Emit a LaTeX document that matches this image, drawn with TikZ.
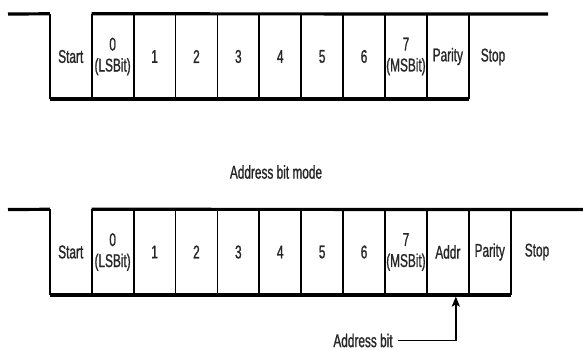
\documentclass[tikz,border=0pt]{standalone}
\usepackage{fontspec}
\setmainfont{Liberation Sans}[FakeStretch=0.64, FakeBold=1]
\usetikzlibrary{positioning,arrows.meta}
\begin{document}
\begin{tikzpicture}[
    x=1pt, y=-1pt,
    >={Stealth[length=10pt,width=8pt,inset=2pt]},
    cell/.style={
        minimum width=41.5pt,
        minimum height=85pt,
        inner sep=0pt,
        align=center,
        text=black!85,
        font=\fontsize{18.5}{21}\selectfont
    },
    lbl/.style={text=black!85, font=\fontsize{18.5}{20}\selectfont},
    bus/.style={line width=3.2pt},
    low/.style={line width=3.8pt},
    tick/.style={line width=1.8pt},
    arr/.style={->, line width=1.8pt, shorten >=1.8pt}
]
    \useasboundingbox (0,0) rectangle (583,350);

    % normal frame
    \node[cell] (start) at (70.75,56.5) {Start};
    \node[cell, right=0pt of start] (bit0) {0\\(LSBit)};
    \node[cell, right=0pt of bit0] (bit1) {1};
    \node[cell, right=0pt of bit1] (bit2) {2};
    \node[cell, right=0pt of bit2] (bit3) {3};
    \node[cell, right=0pt of bit3] (bit4) {4};
    \node[cell, right=0pt of bit4] (bit5) {5};
    \node[cell, right=0pt of bit5] (bit6) {6};
    \node[cell, right=0pt of bit6] (bit7) {7\\(MSBit)};
    \node[cell, right=0pt of bit7] (par) {Parity};
    \node[lbl] (stop) at (493,57) {Stop};
    \coordinate (idle) at (8,14);
    \coordinate (high) at (548,14);

    \foreach \c in {start,bit0,bit1,bit2,bit3,bit4,bit5,bit6,bit7,par}
        \draw[tick] (\c.north west) -- (\c.south west);
    \draw[tick] (par.north east) -- (par.south east);
    \draw[bus] (idle) -- (start.north west);
    \draw[bus] (bit0.north west) -- (high);
    \draw[low] (start.south west) -- (par.south east);

    \node[lbl] (mode) at (276,172) {Address bit mode};

    % address bit frame
    \node[cell] (astart) at (70.75,252) {Start};
    \node[cell, right=0pt of astart] (abit0) {0\\(LSBit)};
    \node[cell, right=0pt of abit0] (abit1) {1};
    \node[cell, right=0pt of abit1] (abit2) {2};
    \node[cell, right=0pt of abit2] (abit3) {3};
    \node[cell, right=0pt of abit3] (abit4) {4};
    \node[cell, right=0pt of abit4] (abit5) {5};
    \node[cell, right=0pt of abit5] (abit6) {6};
    \node[cell, right=0pt of abit6] (abit7) {7\\(MSBit)};
    \node[cell, right=0pt of abit7] (addr) {Addr};
    \node[cell, right=0pt of addr] (apar) {Parity};
    \node[lbl] (astop) at (537,252) {Stop};
    \coordinate (aidle) at (8,209.5);
    \coordinate (ahigh) at (583,209.5);

    \foreach \c in {astart,abit0,abit1,abit2,abit3,abit4,abit5,abit6,abit7,addr,apar}
        \draw[tick] (\c.north west) -- (\c.south west);
    \draw[tick] (apar.north east) -- (apar.south east);
    \draw[bus] (aidle) -- (astart.north west);
    \draw[bus] (abit0.north west) -- (ahigh);
    \draw[low] (astart.south west) -- (apar.south east);

    \node[lbl, inner sep=1pt] (note) at (363,340.5) {Address bit};
    \draw[arr] ([xshift=4pt]note.east) -| ([xshift=8pt]addr.south);
\end{tikzpicture}
\end{document}
